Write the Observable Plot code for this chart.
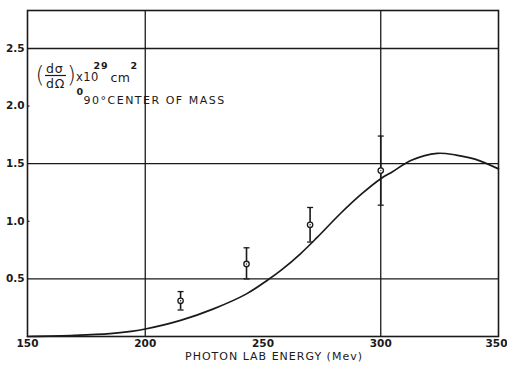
<!DOCTYPE html>
<html>
<head>
<meta charset="utf-8">
<script src="https://cdn.jsdelivr.net/npm/d3@7"></script>
<script src="https://cdn.jsdelivr.net/npm/@observablehq/plot@0.6"></script>
<style>
  html, body { margin: 0; padding: 0; background: #fff; }
  #chart svg { display: block; }
</style>
</head>
<body>
<div id="chart"></div>
<script>
// ---- data ----
const xTicks = [150, 200, 250, 300, 350];
const yTicks = [0.5, 1.0, 1.5, 2.0, 2.5];
const gridX = [200, 300];
const gridY = [0.5, 1.5, 2.5];
const minorY = [1.0, 2.0];

// measured points with error bars
const energy = [215, 243, 270, 300];
const sigma = [0.31, 0.63, 0.97, 1.44];
const errLow = [0.23, 0.50, 0.82, 1.14];
const errHigh = [0.39, 0.77, 1.12, 1.74];

// theoretical curve
const curveE = [150, 170, 185, 194, 200, 215, 229, 243, 252, 258, 266, 273, 283, 292, 300, 305, 313, 324, 332, 340, 350];
const curveS = [0.0, 0.01, 0.025, 0.045, 0.065, 0.14, 0.24, 0.37, 0.49, 0.58, 0.72, 0.86, 1.07, 1.24, 1.37, 1.43, 1.53, 1.59, 1.575, 1.54, 1.455];

const xLabel = "PHOTON LAB ENERGY (Mev)";
const noteLine2 = "90°CENTER OF MASS";

// ---- tables built from the arrays ----
const points = energy.map((e, i) => ({e, s: sigma[i], lo: errLow[i], hi: errHigh[i]}));
const curve = curveE.map((e, i) => ({e, s: curveS[i]}));

const ink = "#1a1a1a";
const capSymbol = {draw(ctx, size) { const r = Math.sqrt(size / Math.PI); ctx.moveTo(-r, 0); ctx.lineTo(r, 0); }};
const tickSymbol = {draw(ctx, size) { const r = Math.sqrt(size / Math.PI); ctx.moveTo(0, 0); ctx.lineTo(r, 0); }};

const font = "DejaVu Sans";
const one = [0];
const note = (text, opts) => Plot.text(one, {frameAnchor: "top-left", text: () => text, textAnchor: "start", lineAnchor: "middle", fill: ink, fontFamily: font, ...opts});

const fractionBar = (index, scales, values, dims) => {
  const g = d3.create("svg:line")
    .attr("x1", dims.marginLeft + 18).attr("x2", dims.marginLeft + 39)
    .attr("y1", dims.marginTop + 65.5).attr("y2", dims.marginTop + 65.5)
    .attr("stroke", ink).attr("stroke-width", 1.2);
  return g.node();
};

const axisOpts = {tickSize: 0, tickPadding: 3, fontWeight: "bold", fontSize: 10.5, label: null, fill: ink};

const chart = Plot.plot({
  width: 507,
  height: 366,
  marginLeft: 27,
  marginRight: 9,
  marginTop: 10,
  marginBottom: 30,
  style: {fontFamily: font, fontSize: "10px", color: ink, background: "#fff"},
  x: {domain: [150, 350], ticks: xTicks, label: null},
  y: {domain: [0, 2.83], ticks: yTicks, tickFormat: d3.format(".1f"), label: null},
  marks: [
    Plot.ruleY(gridY, {stroke: ink, strokeWidth: 1.3}),
    Plot.ruleX(gridX, {stroke: ink, strokeWidth: 1.3}),
    Plot.dot(minorY, {x: () => 150, y: d => d, symbol: tickSymbol, r: 2, stroke: ink, strokeWidth: 1.2}),
    Plot.frame({stroke: ink, strokeWidth: 1.6}),
    Plot.axisX({...axisOpts, ticks: xTicks.slice(0, -1)}),
    Plot.axisX({...axisOpts, ticks: xTicks.slice(-1), dx: -2}),
    Plot.axisY({...axisOpts, ticks: yTicks, tickFormat: d3.format(".1f")}),
    Plot.line(curve, {x: "e", y: "s", curve: "catmull-rom", stroke: ink, strokeWidth: 1.7}),
    Plot.ruleX(points, {x: "e", y1: "lo", y2: "hi", stroke: ink, strokeWidth: 1.6}),
    Plot.dot(points, {x: "e", y: "lo", symbol: capSymbol, r: 3, stroke: ink, strokeWidth: 1.3}),
    Plot.dot(points, {x: "e", y: "hi", symbol: capSymbol, r: 3, stroke: ink, strokeWidth: 1.3}),
    Plot.dot(points, {x: "e", y: "s", r: 2.7, fill: "#fff", stroke: ink, strokeWidth: 1.3}),
    Plot.dot(points, {x: "e", y: "s", r: 0.7, fill: ink}),
    // annotation (dσ/dΩ)0 x10^29 cm^2
    note("(", {dx: 8, dy: 65.5, fontSize: 23, fontWeight: 300}),
    note("dσ", {dx: 18.5, dy: 58, fontSize: 12.5}),
    fractionBar,
    note("dΩ", {dx: 18.5, dy: 73.5, fontSize: 12.5}),
    note(")", {dx: 39.5, dy: 65.5, fontSize: 23, fontWeight: 300}),
    note("0", {dx: 49, dy: 81.5, fontSize: 9.5, fontWeight: "bold"}),
    note("x10", {dx: 48.5, dy: 67, fontSize: 11.5}),
    note("29", {dx: 66, dy: 55, fontSize: 9.5, fontWeight: "bold"}),
    note("cm", {dx: 83, dy: 67.5, fontSize: 12.5}),
    note("2", {dx: 103, dy: 55, fontSize: 9.5, fontWeight: "bold"}),
    note(noteLine2, {dx: 56, dy: 90, fontSize: 11}),
    Plot.text(one, {frameAnchor: "bottom", text: () => xLabel, dx: 11, dy: 20, lineAnchor: "middle", fill: ink, fontFamily: font, fontSize: 11})
  ]
});

// letter spacing for the hand-lettered labels
const spacing = new Map([[noteLine2, 1.5], [xLabel, 1.0], ["x10", 0.5], ["29", 1.0], ["dσ", 0.8], ["dΩ", 0.8], ["cm", 0.5]]);
d3.select(chart).selectAll("text").each(function () {
  const s = spacing.get(this.textContent);
  if (s != null) this.setAttribute("letter-spacing", s);
});
document.getElementById("chart").append(chart);
</script>
</body>
</html>
